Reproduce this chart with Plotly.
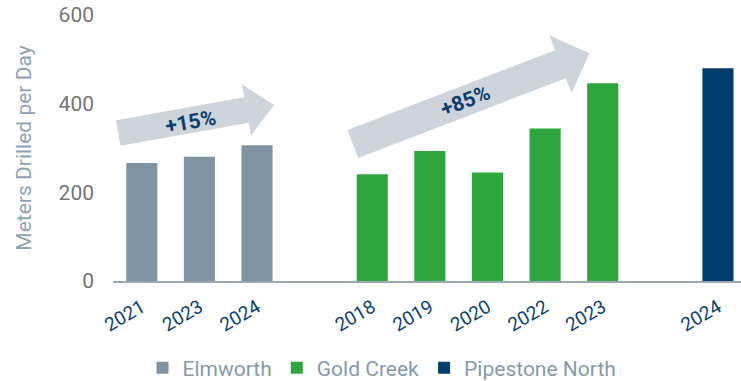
import math
import plotly.graph_objects as go

# ---- data -------------------------------------------------------------
series_names = ["Elmworth", "Gold Creek", "Pipestone North"]
elmworth_years = ["2021", "2023", "2024"]
elmworth_values = [266, 280, 306]
gold_creek_years = ["2018", "2019", "2020", "2022", "2023"]
gold_creek_values = [241, 293, 245, 344, 446]
pipestone_years = ["2024"]
pipestone_values = [480]
y_ticks = [0, 200, 400, 600]

# ---- styling ------------------------------------------------------------
colors = ["#8093a3", "#2fa53d", "#023e6d"]
arrow_fill = "#cdd4db"
label_navy = "#0d3f6e"
FONT = "Roboto"

W, H = 741, 381
M_L, M_R, M_T, M_B = 113, 0, 15, 100
X_RANGE = [-0.5, 10.4]
Y_RANGE = [0, 600]
px_x = (W - M_L - M_R) / (X_RANGE[1] - X_RANGE[0])
px_y = (H - M_T - M_B) / (Y_RANGE[1] - Y_RANGE[0])

# slot positions: one empty slot between sites
groups = [
    (elmworth_years, elmworth_values),
    (gold_creek_years, gold_creek_values),
    (pipestone_years, pipestone_values),
]
positions = []
slot = 0
for years, _ in groups:
    positions.append(list(range(slot, slot + len(years))))
    slot += len(years) + 1

fig = go.Figure()
tick_vals, tick_text = [], []
for name, color, (years, vals), xs in zip(series_names, colors, groups, positions):
    fig.add_trace(go.Bar(
        x=xs, y=vals, name=name, width=0.54,
        marker=dict(color=color, line=dict(width=0)),
        hovertext=years,
    ))
    tick_vals += xs
    tick_text += years


def growth_label(vals):
    return f"+{round((vals[-1] / vals[0] - 1) * 100)}%"


def fat_arrow(tail, tip, shaft_w, head_w, head_len):
    """Build a block-arrow path in data units with pixel-true proportions."""
    tx, ty = tail[0] * px_x, tail[1] * px_y
    hx, hy = tip[0] * px_x, tip[1] * px_y
    dx, dy = hx - tx, hy - ty
    L = math.hypot(dx, dy)
    ux, uy = dx / L, dy / L
    nx, ny = -uy, ux
    bx, by = hx - ux * head_len, hy - uy * head_len
    pts = [
        (tx + nx * shaft_w / 2, ty + ny * shaft_w / 2),
        (bx + nx * shaft_w / 2, by + ny * shaft_w / 2),
        (bx + nx * head_w / 2, by + ny * head_w / 2),
        (hx, hy),
        (bx - nx * head_w / 2, by - ny * head_w / 2),
        (bx - nx * shaft_w / 2, by - ny * shaft_w / 2),
        (tx - nx * shaft_w / 2, ty - ny * shaft_w / 2),
    ]
    path = "M " + " L ".join(f"{px / px_x:.4f},{py / px_y:.3f}" for px, py in pts) + " Z"
    angle = -math.degrees(math.atan2(dy, dx))
    return path, angle


arrows = [
    dict(tail=(-0.408, 334), tip=(2.295, 397), shaft=26, head=52, hl=28,
         text=growth_label(elmworth_values), at=(0.837, 359)),
    dict(tail=(3.663, 309), tip=(7.769, 514), shaft=30, head=62, hl=31,
         text=growth_label(gold_creek_values), at=(5.611, 405)),
]
for a in arrows:
    path, ang = fat_arrow(a["tail"], a["tip"], a["shaft"], a["head"], a["hl"])
    fig.add_shape(type="path", path=path, xref="x", yref="y",
                  fillcolor=arrow_fill, line=dict(width=0), layer="below")
    fig.add_annotation(x=a["at"][0], y=a["at"][1], xref="x", yref="y",
                       text=f"<b>{a['text']}</b>", showarrow=False,
                       textangle=ang,
                       font=dict(family=FONT, size=21, color=label_navy))

fig.update_layout(
    width=W, height=H,
    margin=dict(l=M_L, r=M_R, t=M_T, b=M_B, pad=0, autoexpand=False),
    paper_bgcolor="white", plot_bgcolor="white",
    barmode="overlay",
    font=dict(family=FONT),
    showlegend=True,
    legend=dict(
        orientation="h", x=0.047, xanchor="left", y=-0.327, yanchor="middle",
        font=dict(family=FONT, size=21, color="#8799aa"),
        itemwidth=30, bgcolor="rgba(0,0,0,0)",
    ),
    xaxis=dict(
        range=X_RANGE, tickmode="array", tickvals=tick_vals, ticktext=tick_text,
        tickangle=-30, tickfont=dict(family=FONT, size=19, color="#0e4272"),
        showgrid=False, zeroline=False, showline=True,
        linecolor="#9aa8b4", linewidth=2, ticks="", ticklabelstandoff=6,
        automargin=False,
    ),
    yaxis=dict(
        range=Y_RANGE, tickmode="array", tickvals=y_ticks,
        tickfont=dict(family=FONT, size=21, color="#767676"),
        showgrid=False, zeroline=False, showline=False, ticks="",
        ticklabelstandoff=18, automargin=False,
        title=dict(text="Meters Drilled per Day", standoff=21,
                   font=dict(family=FONT, size=21, color="#8ea2b3")),
    ),
)

fig.write_html("out.html")
